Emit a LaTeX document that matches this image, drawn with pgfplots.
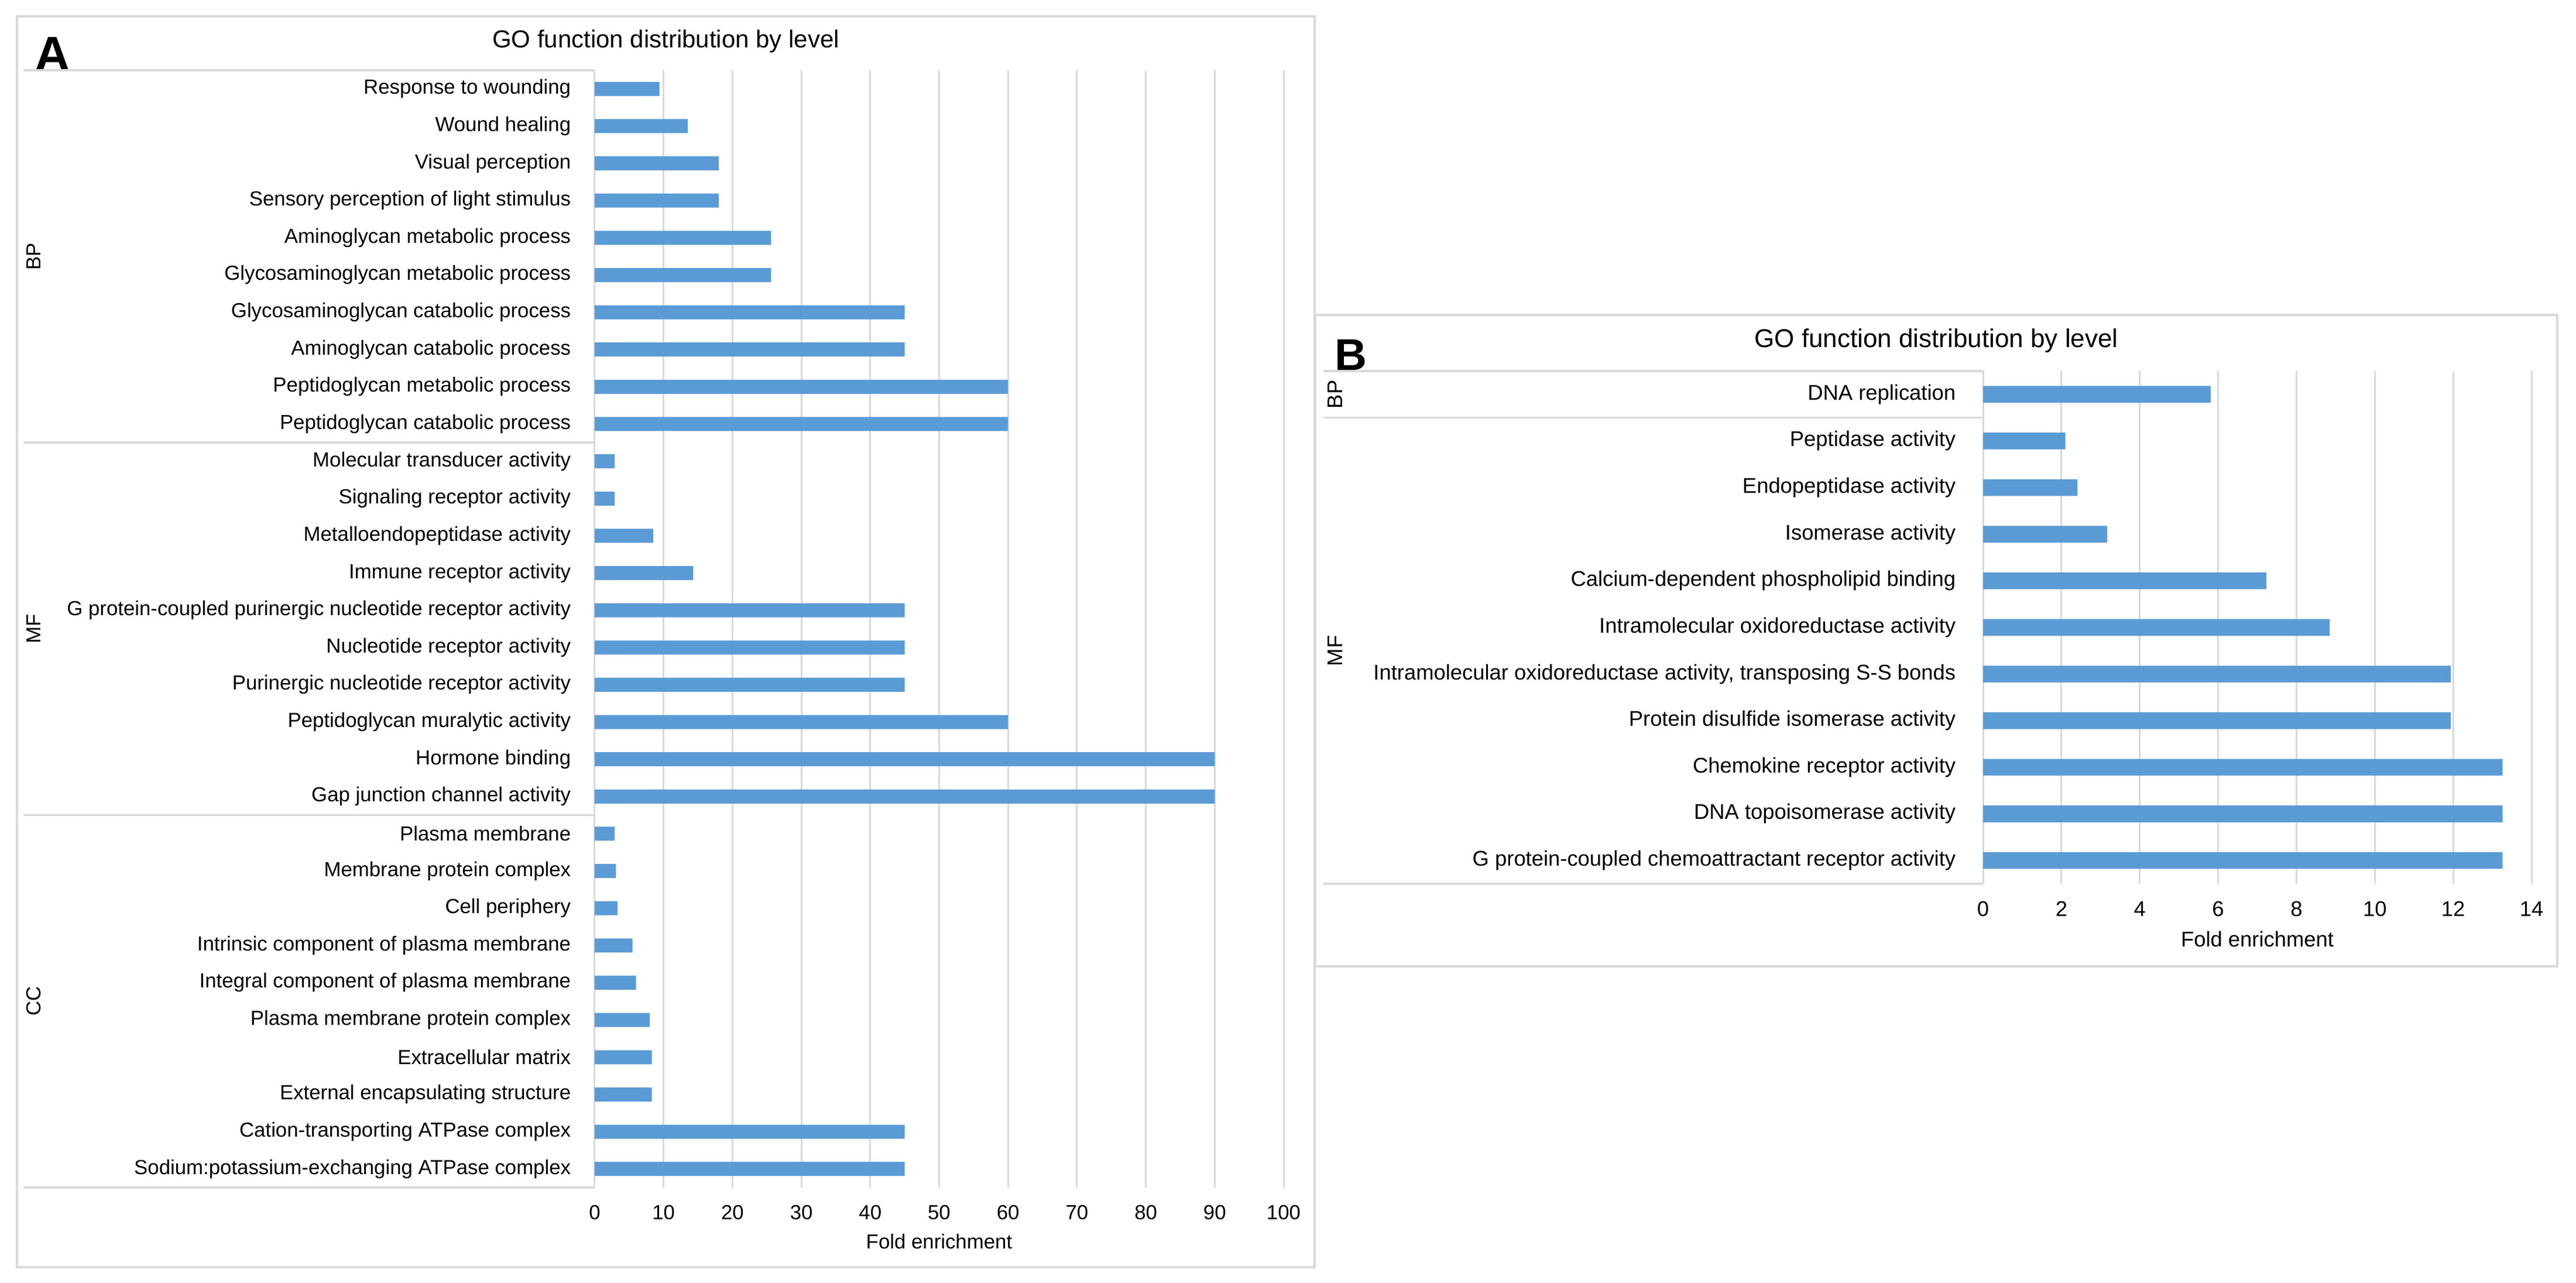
\documentclass[border=0pt]{standalone}
\usepackage{fontspec}
\setmainfont{Liberation Sans}
\usepackage{pgfplots}
\pgfplotsset{compat=1.18}
\definecolor{barblue}{HTML}{5B9BD5}
\definecolor{gridgray}{HTML}{D9D9D9}
\begin{document}
\begin{tikzpicture}[x=1pt,y=1pt]
\path[use as bounding box] (0,0) rectangle (1100.25,548);
% frames
\draw[gridgray, line width=0.9pt] (7.25,6.75) rectangle (561.5,541);
\draw[gridgray, line width=0.9pt] (561.75,135.25) rectangle (1092.25,413.5);
% ---------------- Panel A ----------------
\node[font=\fontsize{21}{24}\selectfont\bfseries, inner sep=0pt] at (22.4,524.75) {A};
\node[font=\fontsize{10.5}{12}\selectfont, inner sep=0pt] at (284.4,530.25) {GO function distribution by level};
\begin{axis}[
  at={(254pt,40.75pt)}, anchor=south west,
  width=294.25pt, height=477.25pt, scale only axis,
  xmin=0, xmax=100, ymin=0.5, ymax=30.5,
  xtick={0,10,...,100}, ytick={1,...,30},
  yticklabels={Sodium:potassium-exchanging ATPase complex,
    Cation-transporting ATPase complex,
    External encapsulating structure,
    Extracellular matrix,
    Plasma membrane protein complex,
    Integral component of plasma membrane,
    Intrinsic component of plasma membrane,
    Cell periphery,
    Membrane protein complex,
    Plasma membrane,
    Gap junction channel activity,
    Hormone binding,
    Peptidoglycan muralytic activity,
    Purinergic nucleotide receptor activity,
    Nucleotide receptor activity,
    G protein-coupled purinergic nucleotide receptor activity,
    Immune receptor activity,
    Metalloendopeptidase activity,
    Signaling receptor activity,
    Molecular transducer activity,
    Peptidoglycan catabolic process,
    Peptidoglycan metabolic process,
    Aminoglycan catabolic process,
    Glycosaminoglycan catabolic process,
    Glycosaminoglycan metabolic process,
    Aminoglycan metabolic process,
    Sensory perception of light stimulus,
    Visual perception,
    Wound healing,
    Response to wounding},
  xmajorgrids, grid style={gridgray, line width=0.75pt},
  axis line style={draw=none}, major tick length=0,
  tick label style={font=\fontsize{8.7}{10}\selectfont},
  /pgf/number format/assume math mode=true,
  xticklabel style={anchor=center, yshift=-10.75pt},
  yticklabel style={anchor=east, inner xsep=0pt, xshift=-10pt},
  xlabel={Fold enrichment},
  xlabel style={at={(axis description cs:0.5,0)}, anchor=center, yshift=-23pt, font=\fontsize{8.7}{10}\selectfont},
  clip=false,
]
\draw[gridgray, line width=0.75pt] (axis cs:0,0.5) -- (axis cs:0,30.5);
\addplot[xbar, bar width=6pt, fill=barblue, draw=none] coordinates {
  (45,1) (45,2) (8.3,3) (8.3,4) (8.0,5) (6.0,6) (5.5,7) (3.3,8) (3.1,9) (2.9,10)
  (90,11) (90,12) (60,13) (45,14) (45,15) (45,16) (14.3,17) (8.5,18) (2.9,19) (2.9,20)
  (60,21) (60,22) (45,23) (45,24) (25.6,25) (25.6,26) (18,27) (18,28) (13.5,29) (9.4,30)
};
\end{axis}
\foreach \yy in {518,358.92,199.83,40.75} {
  \draw[gridgray, line width=0.9pt] (10,\yy) -- (254,\yy);
}
\node[rotate=90, font=\fontsize{8.7}{10}\selectfont, inner sep=0pt] at (14.4,438.46) {BP};
\node[rotate=90, font=\fontsize{8.7}{10}\selectfont, inner sep=0pt] at (14.4,279.38) {MF};
\node[rotate=90, font=\fontsize{8.7}{10}\selectfont, inner sep=0pt] at (14.4,120.3) {CC};
% ---------------- Panel B ----------------
\node[font=\fontsize{19}{22}\selectfont\bfseries, inner sep=0pt] at (577,396.5) {B};
\node[font=\fontsize{11}{13}\selectfont, inner sep=0pt] at (827,402.5) {GO function distribution by level};
\begin{axis}[
  at={(847pt,170.5pt)}, anchor=south west,
  width=234.25pt, height=219pt, scale only axis,
  xmin=0, xmax=14, ymin=0.5, ymax=11.5,
  xtick={0,2,...,14}, ytick={1,...,11},
  yticklabels={G protein-coupled chemoattractant receptor activity,
    DNA topoisomerase activity,
    Chemokine receptor activity,
    Protein disulfide isomerase activity,
    {Intramolecular oxidoreductase activity, transposing S-S bonds},
    Intramolecular oxidoreductase activity,
    Calcium-dependent phospholipid binding,
    Isomerase activity,
    Endopeptidase activity,
    Peptidase activity,
    DNA replication},
  xmajorgrids, grid style={gridgray, line width=0.75pt},
  axis line style={draw=none}, major tick length=0,
  tick label style={font=\fontsize{9.1}{11}\selectfont},
  /pgf/number format/assume math mode=true,
  xticklabel style={anchor=center, yshift=-10.75pt},
  yticklabel style={anchor=east, inner xsep=0pt, xshift=-11.5pt},
  xlabel={Fold enrichment},
  xlabel style={at={(axis description cs:0.5,0)}, anchor=center, yshift=-23.75pt, font=\fontsize{9.1}{11}\selectfont},
  clip=false,
]
\draw[gridgray, line width=0.75pt] (axis cs:0,0.5) -- (axis cs:0,11.5);
\addplot[xbar, bar width=7.15pt, fill=barblue, draw=none] coordinates {
  (13.26,1) (13.26,2) (13.26,3) (11.94,4) (11.94,5) (8.85,6) (7.23,7) (3.17,8) (2.41,9) (2.10,10) (5.81,11)
};
\end{axis}
\foreach \yy in {389.5,369.59,170.5} {
  \draw[gridgray, line width=0.9pt] (565.25,\yy) -- (847,\yy);
}
\node[rotate=90, font=\fontsize{9.1}{11}\selectfont, inner sep=0pt] at (570.25,379.55) {BP};
\node[rotate=90, font=\fontsize{9.1}{11}\selectfont, inner sep=0pt] at (570.25,270.05) {MF};
\end{tikzpicture}
\end{document}
